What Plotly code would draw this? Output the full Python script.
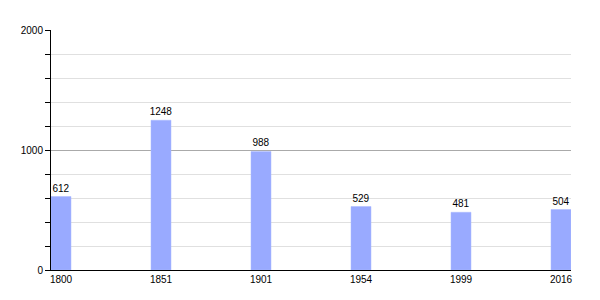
import plotly.graph_objects as go

years = ["1800", "1851", "1901", "1954", "1999", "2016"]
population = [612, 1248, 988, 529, 481, 504]
y_ticks = [0, 1000, 2000]

positions = list(range(len(years)))

fig = go.Figure()
fig.add_trace(go.Bar(
    x=positions, y=population, width=0.2,
    marker=dict(color="#99aaff", line=dict(color="#aabbff", width=0.5)),
    text=[str(v) for v in population], textposition="outside",
    constraintext="none",
    textfont=dict(family="Liberation Sans, Arial", size=10, color="#000"),
    cliponaxis=False,
))
fig.update_layout(
    width=600, height=300,
    margin=dict(l=51, r=29, t=30, b=30),
    paper_bgcolor="white", plot_bgcolor="white",
    showlegend=False,
    font=dict(family="Liberation Sans, Arial", size=10, color="#000"),
    xaxis=dict(
        range=[-0.1, 5.1], tickvals=positions, ticktext=years,
        tickfont=dict(color="#000", size=10),
        showgrid=False, showline=True, linecolor="#000", linewidth=1,
        ticks="", ticklen=0, zeroline=False, fixedrange=True,
    ),
    yaxis=dict(
        range=[0, 2000], tickvals=y_ticks,
        tickfont=dict(color="#000", size=10),
        showgrid=True, gridcolor="#aaaaaa", gridwidth=1,
        showline=True, linecolor="#000", linewidth=1,
        ticks="outside", ticklen=5, tickcolor="#000",
        zeroline=False,
        minor=dict(dtick=200, tick0=0, showgrid=True, gridcolor="#e0e0e0",
                   ticks="outside", ticklen=5, tickcolor="#000"),
    ),
)
fig.write_html("out.html")
